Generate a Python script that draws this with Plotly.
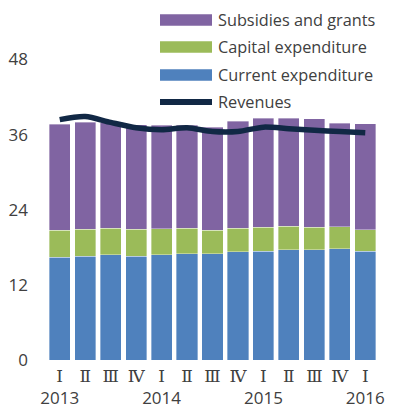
import plotly.graph_objects as go

quarters = ["Ⅰ", "Ⅱ", "Ⅲ", "Ⅳ", "Ⅰ", "Ⅱ", "Ⅲ", "Ⅳ", "Ⅰ", "Ⅱ", "Ⅲ", "Ⅳ", "Ⅰ"]
years = ["2013", "", "", "", "2014", "", "", "", "2015", "", "", "", "2016"]
categories = [f"{y}Q{i}" for i, y in enumerate(["13"] * 4 + ["14"] * 4 + ["15"] * 4 + ["16"])]

current_exp = [16.45, 16.6, 16.8, 16.6, 16.8, 16.95, 16.95, 17.3, 17.4, 17.6, 17.6, 17.75, 17.4]
capital_exp = [4.25, 4.3, 4.25, 4.3, 4.15, 4.1, 3.75, 3.75, 3.8, 3.8, 3.6, 3.5, 3.4]
subsidies = [17.0, 17.05, 16.85, 16.7, 16.55, 16.45, 16.5, 17.05, 17.45, 17.25, 17.3, 16.6, 16.95]
revenues = [38.4, 38.9, 37.95, 37.1, 36.8, 37.1, 36.5, 36.5, 37.2, 36.95, 36.7, 36.5, 36.3]

y_ticks = [0, 12, 24, 36, 48]

C_SUB = "#8064a2"
C_CAP = "#9bbb59"
C_CUR = "#4f81bd"
C_REV = "#112845"
TXT = "#404040"
FONT = "Open Sans, Noto Sans CJK JP, sans-serif"
EDGE = dict(width=0.8, color="rgba(255,255,255,0.45)")

fig = go.Figure()
fig.add_bar(x=categories, y=current_exp, name="Current expenditure", marker_color=C_CUR,
            marker_line=EDGE)
fig.add_bar(x=categories, y=capital_exp, name="Capital expenditure", marker_color=C_CAP,
            marker_line=EDGE)
fig.add_bar(x=categories, y=subsidies, name="Subsidies and grants", marker_color=C_SUB,
            marker_line=EDGE)
fig.add_scatter(x=categories, y=revenues, name="Revenues", mode="lines",
                line=dict(color=C_REV, width=5.5, shape="spline", smoothing=0.8))

# page body has an 8px margin, so the figure starts at (8, 8)
OFF = 8
W, H = 392, 404
L, R, T, B = 47 - OFF, 22, 47 - OFF, 52
pw, ph = W - L - R, H - T - B


def px(x):
    return (x - OFF - L) / pw


def py(y):
    return (OFF + T + ph - y) / ph


legend_items = [
    ("Subsidies and grants", C_SUB, 20),
    ("Capital expenditure", C_CAP, 47),
    ("Current expenditure", C_CUR, 75),
]
LEG_SIZE = 16.3
shapes = []
annotations = []
for label, col, yc in legend_items:
    shapes.append(dict(type="rect", xref="paper", yref="paper",
                       x0=px(160), x1=px(212), y0=py(yc - 5.7), y1=py(yc + 5.7),
                       fillcolor=col, line_width=0))
    annotations.append(dict(text=label, xref="paper", yref="paper", x=px(216), y=py(yc),
                            xanchor="left", yanchor="middle", showarrow=False,
                            font=dict(size=LEG_SIZE, color=TXT, family=FONT)))
shapes.append(dict(type="line", xref="paper", yref="paper",
                   x0=px(160), x1=px(212), y0=py(102), y1=py(102),
                   line=dict(color=C_REV, width=6)))
annotations.append(dict(text="Revenues", xref="paper", yref="paper", x=px(216), y=py(102),
                        xanchor="left", yanchor="middle", showarrow=False,
                        font=dict(size=LEG_SIZE, color=TXT, family=FONT)))

ticktext = ["<span style='font-family:DejaVu Serif'>" + q + "</span>" + ("<br>" + y if y else "")
            for q, y in zip(quarters, years)]

fig.update_layout(
    width=W, height=H,
    margin=dict(l=L, r=R, t=T, b=B, pad=0),
    barmode="stack", bargap=0.17,
    showlegend=False,
    plot_bgcolor="white", paper_bgcolor="white",
    font=dict(family=FONT, size=17, color=TXT),
    shapes=shapes, annotations=annotations,
    xaxis=dict(tickmode="array", tickvals=categories, ticktext=ticktext,
               showgrid=False, showline=False, zeroline=False, ticks="",
               tickangle=0, ticklabelstandoff=4, automargin=False,
               tickfont=dict(size=17, color=TXT)),
    yaxis=dict(range=[0, 50], tickvals=y_ticks, showgrid=False, zeroline=False,
               showline=False, ticks="", ticklabelstandoff=18, automargin=False,
               tickfont=dict(size=17, color=TXT)),
)

fig.write_html("out.html")
